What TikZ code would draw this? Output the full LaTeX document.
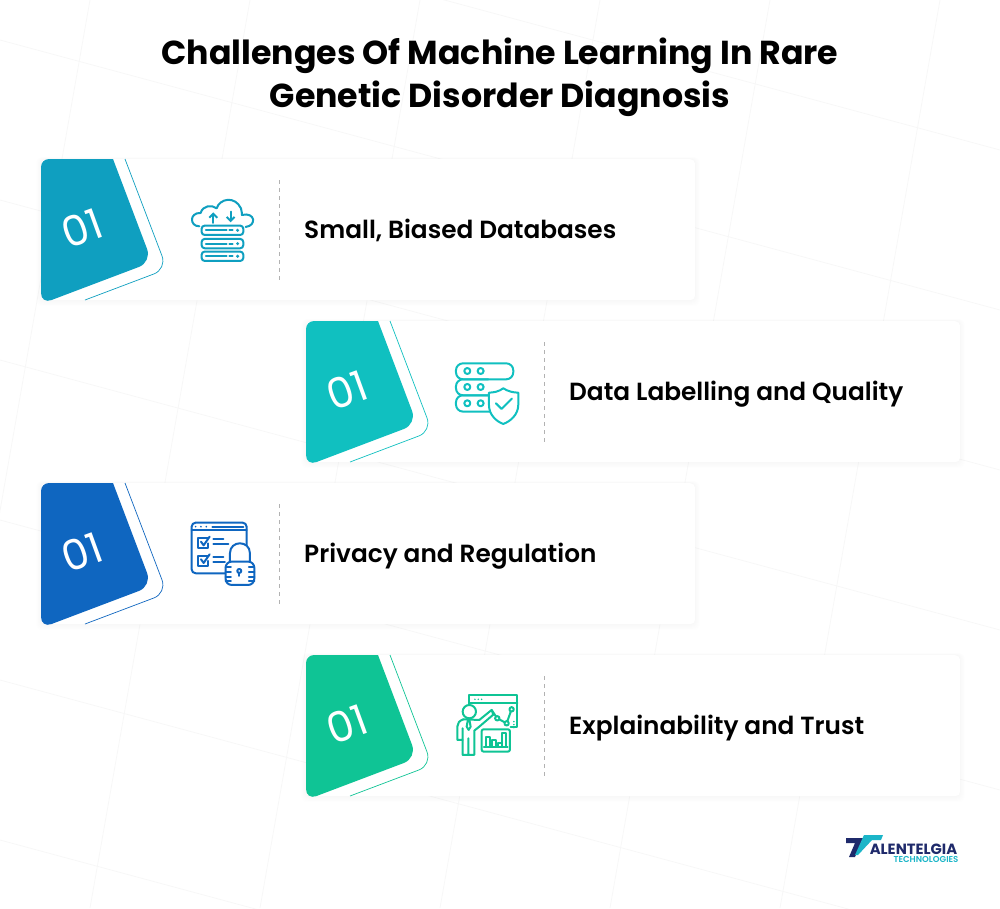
\documentclass[tikz,border=0pt]{standalone}
\usepackage{fontspec}
\setmainfont{Poppins}
\newfontfamily\semifont{Poppins SemiBold}
\usetikzlibrary{arrows.meta}
\definecolor{bluetag}{HTML}{0F9FC0}
\definecolor{tealtag}{HTML}{10C0C0}
\definecolor{navytag}{HTML}{0F66C0}
\definecolor{greentag}{HTML}{0FC495}
\definecolor{logonavy}{HTML}{1F2A6B}
\definecolor{logoteal}{HTML}{1BB5C8}
\tikzset{
  cardbox/.style={fill=white,rounded corners=5pt,minimum width=654pt,minimum height=141pt,inner sep=0pt,anchor=north west},
  headline/.style={font=\bfseries\fontsize{33.2}{43}\selectfont,align=center,text=black},
  cardlabel/.style={font=\semifont\fontsize{24.8}{28}\selectfont,text=black,anchor=base west,inner sep=0pt},
  tagnum/.style={font=\fontsize{42}{44}\selectfont,text=white,rotate=20,inner sep=0pt},
  icon/.style={line width=2pt,line join=round,line cap=round},
  gridline/.style={draw=black!3,line width=.7pt}
}
% one card: top left x, top y, name, colour, label
\newcommand{\challenge}[5]{
  \foreach \g in {1,...,7}
  \fill[black,opacity=.005,rounded corners=6pt] (#1-\g*.7,#2-\g*.3) rectangle (#1+654+\g*.7,#2+141+\g*.9);
  \node[cardbox] (#3) at (#1,#2) {};
  \fill[#4] (#1+30,#2) -- (#1+72,#2) [rounded corners=14pt] -- (#1+111,#2+103) [rounded corners=11pt] -- (#1,#2+145) [rounded corners=8pt] -- (#1,#2) [sharp corners] -- cycle;
  \draw[#4,line width=.7pt,rounded corners=14pt] (#1+84,#2) -- (#1+126,#2+110) -- (#1+44,#2+141);
  \draw[dashed,black!30,line width=.6pt,dash pattern=on 4pt off 4pt] (#1+238,#2+21) -- (#1+238,#2+121);
  \node[tagnum] (#3num) at (#1+41,#2+69) {01};
  \node[cardlabel] (#3text) at (#1+263,#2+79) {#5};
}
\begin{document}
\begin{tikzpicture}[x=1pt,y=-1pt]
\useasboundingbox (0,0) rectangle (1000,908);
\fill[white] (0,0) rectangle (1000,908);
% faint grid in the background
\foreach \a in {90,250,420,600,770,940}
\draw[gridline] (\a,0) -- (\a-160,908);
\foreach \b in {-120,40,200,360,520,680,840}
\draw[gridline] (0,\b) -- (1000,\b+270);
%%%%
\node[headline] (title) at (500,77.5) {Challenges Of Machine Learning In Rare\\Genetic Disorder Diagnosis};
\challenge{41}{159}{small}{bluetag}{Small, Biased Databases}
\challenge{306}{321}{labelling}{tealtag}{Data Labelling and Quality}
\challenge{41}{483}{privacy}{navytag}{Privacy and Regulation}
\challenge{306}{655}{trust}{greentag}{Explainability and Trust}
%%%% cloud and servers
\begin{scope}[shift={(180,185)},scale=.333,bluetag,icon]
\foreach \y in {122,162,200}{
\draw[rounded corners=3pt] (65,\y) rectangle (190,\y+28);
\draw (78,\y+14) -- (140,\y+14);
\draw (148,\y+14) -- (158,\y+14);
\fill (173,\y+14) circle (5);
}
\draw (58,124) .. controls (28,124) and (28,82) .. (62,84) .. controls (68,62) and (95,58) .. (110,70) .. controls (120,40) and (165,32) .. (183,70) .. controls (186,84) .. (186,90) .. controls (225,80) and (232,122) .. (197,126);
\draw[-{Straight Barb[length=4pt,width=8pt]}] (100,114) -- (100,82);
\draw[-{Straight Barb[length=4pt,width=8pt]}] (152,80) -- (152,112);
\end{scope}
%%%% servers and shield
\begin{scope}[shift={(440,350)},scale=.333,tealtag,icon]
\draw[rounded corners=7pt] (48,40) rectangle (220,88);
\draw[rounded corners=7pt] (145,88) -- (48,88) -- (48,136) -- (145,136);
\draw[rounded corners=7pt] (145,136) -- (48,136) -- (48,185) -- (150,185);
\foreach \p in {(82,63),(122,63),(82,111),(122,111),(82,160),(122,160)}
\draw \p circle (9);
\draw (190,115) .. controls (205,125) and (222,128) .. (235,128) -- (235,165) .. controls (235,195) and (210,215) .. (190,222) .. controls (170,215) and (147,195) .. (147,165) -- (147,128) .. controls (160,128) and (177,125) .. (190,115) -- cycle;
\draw (168,160) -- (185,177) -- (216,146);
\end{scope}
%%%% checklist and lock
\begin{scope}[shift={(175,510)},scale=.333,navytag,icon]
\draw[rounded corners=4pt] (150,190) -- (50,190) -- (50,38) -- (215,38) -- (215,105);
\draw (50,60) -- (215,60);
\foreach \x in {62,78,94}
\fill (\x,50) circle (2.8);
\draw (112,50) -- (205,50);
\draw (100,85) -- (68,85) -- (68,115) -- (98,115) -- (98,100);
\draw (78,95) -- (86,106) -- (104,80);
\draw (100,138) -- (68,138) -- (68,168) -- (98,168) -- (98,153);
\draw (78,148) -- (86,159) -- (104,133);
\draw (115,87) -- (145,87) (115,102) -- (160,102);
\draw (115,140) -- (145,140) (115,155) -- (150,155);
\draw[rounded corners=6pt,fill=white] (152,155) rectangle (238,225);
\draw (165,155) -- (165,130) .. controls (165,90) and (225,90) .. (225,130) -- (225,155);
\draw (193,183) circle (6);
\draw (193,189) -- (193,198);
\foreach \y in {170,185,200,212}{
\draw (152,\y) -- (168,\y);
\draw (222,\y) -- (238,\y);
}
\end{scope}
%%%% presenter and charts
\begin{scope}[shift={(440,680)},scale=.333,greentag,icon]
\draw (88,72) -- (88,45) -- (232,45) -- (232,140) -- (212,140);
\draw (88,68) -- (232,68);
\foreach \x in {105,115,125}
\fill (\x,58) circle (2.5);
\draw[fill=white] (88,95) circle (20);
\draw (118,120) -- (155,90) -- (172,115) -- (200,130) -- (215,88);
\foreach \p in {(172,115),(200,130),(215,88)}
\draw[fill=white] \p circle (6.5);
\draw (155,90) -- (160,104) -- (118,140) -- (103,152) -- (103,225) -- (85,225) -- (85,175) (85,225) -- (68,225) -- (68,180);
\draw (70,118) .. controls (58,122) and (52,130) .. (52,140) -- (52,180) -- (68,180) -- (68,145);
\draw (70,118) -- (118,120);
\draw (84,118) -- (80,140) -- (86,150) -- (92,140) -- (88,118);
\draw[rounded corners=2pt] (125,148) rectangle (210,215);
\draw (138,200) -- (138,172) -- (150,172) -- (150,200) (156,200) -- (156,180) -- (168,180) -- (168,200) (174,200) -- (174,190) -- (185,190) -- (185,200) (185,200) -- (185,160) -- (197,160) -- (197,200);
\draw (132,200) -- (203,200);
\foreach \y in {125,134,143}
\fill (222,\y) circle (2.5);
\end{scope}
%%%% logo
\fill[logonavy] (846,838) -- (869,838) -- (867,843) -- (861,843) -- (855,857) -- (849,857) -- (855,843) -- (846,843) -- cycle;
\fill[logoteal] (864,835) -- (883,835) -- (881,840) -- (872,840) -- (858,855) -- (855,855) -- cycle;
\node[font=\bfseries\fontsize{14.8}{15}\selectfont,text=logonavy,inner sep=0pt] (logoname) at (913.5,849) {ALENTELGIA};
\node[font=\semifont\fontsize{8.6}{9}\selectfont,text=logoteal,inner sep=0pt] (logosub) at (926,859.5) {TECHNOLOGIES};
\end{tikzpicture}
\end{document}
